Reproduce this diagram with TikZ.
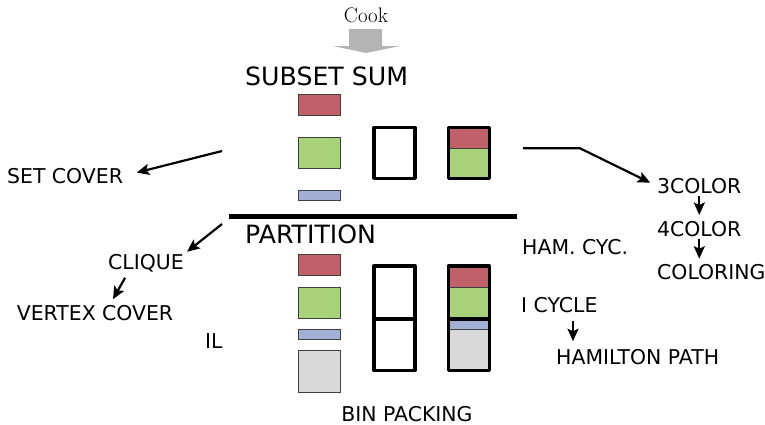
\documentclass[tikz,border=0pt]{standalone}
\usepackage{fontspec}
\newfontfamily\labelsans{DejaVu Sans}
\usetikzlibrary{positioning, calc, arrows.meta}
\definecolor{itemred}{RGB}{192,96,104}
\definecolor{itemgreen}{RGB}{168,210,121}
\definecolor{itemblue}{RGB}{162,176,214}
\definecolor{itemgray}{RGB}{217,217,217}
\definecolor{cookgray}{RGB}{180,180,180}

\begin{document}
\begin{tikzpicture}[x=1pt, y=1pt,
                    lbl/.style={inner sep=0pt, text depth=0pt, font=\labelsans\fontsize{20.4}{24}\selectfont},
                    title/.style={inner sep=0pt, text depth=0pt, font=\labelsans\fontsize{25.2}{30}\selectfont},
                    arr/.style={-{Stealth[length=12.5pt, width=11pt, inset=2.5pt]}, line width=2.2pt},
                    item/.style={draw=black!75, line width=0.9pt},
                    bin/.style={draw=black, line width=3.3pt, line join=round}]
                        \useasboundingbox (0,0) rectangle (765,-424);
                        \node[inner sep=0pt, font=\fontsize{21}{25}\selectfont] (cook) at (366,-15) {Cook};
                        \fill[cookgray] (349,-29) -- (382,-29) -- (382,-46) -- (400,-46) -- (366,-53) -- (333,-46) -- (349,-46) -- cycle;
                        \node[title, anchor=west] (subsetsum) at (245,-76) {SUBSET SUM};
                        \node[title, anchor=west] (partition) at (245,-234) {PARTITION};
                        \node[lbl, anchor=west] (setcover) at (7,-176) {SET COVER};
                        \node[lbl] (clique) at (146,-262) {CLIQUE};
                        \node[lbl] (vcover) at (95,-313) {VERTEX COVER};
                        \node[lbl, anchor=west] (ilp) at (205,-341) {IL};
                        \node[lbl, anchor=west] (hamcyc) at (522,-247) {HAM. CYC.};
                        \node[lbl, anchor=west] (icycle) at (521,-305) {I CYCLE};
                        \node[lbl, anchor=west] (hampath) at (556,-357) {HAMILTON PATH};
                        \node[lbl, anchor=west] (threecol) at (657,-186) {3COLOR};
                        \node[lbl, below right=27.2pt and 0pt of threecol.south west] (fourcol) {4COLOR};
                        \node[lbl, below right=27.2pt and 0pt of fourcol.south west] (coloring) {COLORING};
                        \node[lbl] (binpack) at (407,-414) {BIN PACKING};
                        \coordinate (sumout) at (222,-151);
                        \coordinate (partout) at (222,-224);
                        \coordinate (sumright) at (523,-148.3);

                        \draw[line width=5pt] (229,-216.8) -- (517,-216.8);

                        \foreach \ytop/\ybot/\col in {94.5/115.5/itemred, 137.5/168.5/itemgreen, 190.5/200.5/itemblue,
                                                     254.5/275.5/itemred, 287.5/318.5/itemgreen, 329.5/339.5/itemblue, 350.5/392.5/itemgray}
                            \draw[item, fill=\col] (298.5,-\ytop) rectangle (340.5,-\ybot);
                        \foreach \ytop/\ybot/\col in {127.4/148/itemred, 148/178.3/itemgreen,
                                                     266/287/itemred, 287/319/itemgreen, 319/329/itemblue, 329/370.6/itemgray}
                            \draw[item, fill=\col] (448.4,-\ytop) rectangle (489.3,-\ybot);
                        \foreach \x in {374, 448.4} {
                            \draw[bin] (\x,-127.4) rectangle ++(41,-50.9);
                            \draw[bin] (\x,-266) rectangle ++(41,-53);
                            \draw[bin] (\x,-319) rectangle ++(41,-51.6);
                        }

                        \draw[arr, shorten >=14pt] (sumout) -- (setcover.east);
                        \draw[arr, shorten >=4pt] (partout) -- (clique.north east);
                        \draw[arr] ($(clique.south west)+(17,-8)$) -- ($(vcover.north)+(18,6)$);
                        \draw[arr, shorten >=7.5pt] (sumright) -- ++(57,0) -- (threecol.west);
                        \draw[arr, shorten <=2pt, shorten >=6pt] (threecol.south) -- (fourcol.north);
                        \draw[arr, shorten <=2pt, shorten >=5pt] (fourcol.south) -- (fourcol.south |- coloring.north);
                        \draw[arr] ($(icycle.south west)+(52,-8)$) -- ($(hampath.north west)+(17,8)$);
                    \end{tikzpicture}
\end{document}
